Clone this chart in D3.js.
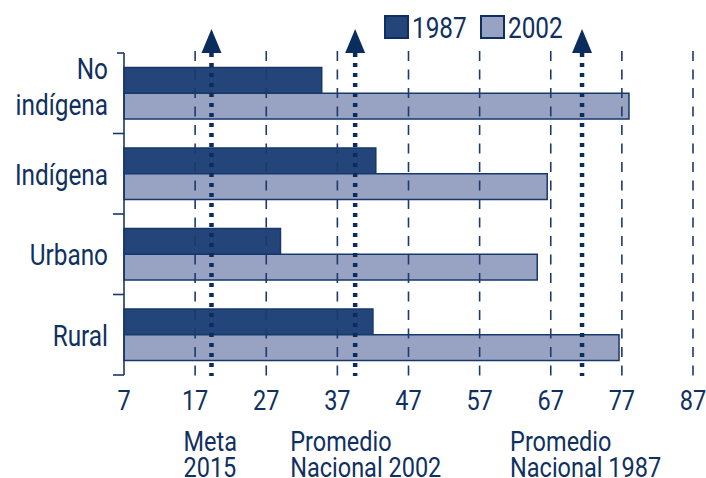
<!DOCTYPE html>
<html>
<head>
<meta charset="utf-8">
<script src="https://cdn.jsdelivr.net/npm/d3@7"></script>
<style>
  body { margin: 0; background: #fff; }
  svg { display: block; }
  text { font-family: Roboto, "Liberation Sans", sans-serif; fill: #10305f; }
</style>
</head>
<body>
<div id="chart"></div>
<script>
// categories, top to bottom
const categories = [['No', 'indígena'], ['Indígena'], ['Urbano'], ['Rural']];
const series = ['1987', '2002'];
const values1987 = [34.8, 42.4, 29.0, 42.0];
const values2002 = [78.0, 66.5, 65.1, 76.6];
const xTicks = [7, 17, 27, 37, 47, 57, 67, 77, 87];

// reference lines (dotted arrows)
const refValues = [19.3, 39.5, 71.4];
const refLabels = [['Meta', '2015'], ['Promedio', 'Nacional 2002'], ['Promedio', 'Nacional 1987']];

const colors = { '1987': '#23457a', '2002': '#98a3c3' };
const narrow = 0.84; // condensed look of the original typeface

const width = 706, height = 478;
const margin = { top: 53, right: 13, bottom: 103, left: 124 };

const svg = d3.select('#chart').append('svg')
  .attr('width', width)
  .attr('height', height);

const place = (px, py) => `translate(${px},${py}) scale(${narrow},1)`;

const x = d3.scaleLinear()
  .domain([7, 87])
  .range([margin.left, width - margin.right]);

const catKeys = categories.map(d => d.join(' '));
const y0 = d3.scaleBand()
  .domain(catKeys)
  .range([margin.top, height - margin.bottom])
  .paddingInner(0.36)
  .paddingOuter(0.18);

const y1 = d3.scaleBand()
  .domain(series)
  .range([0, y0.bandwidth()]);

const rows = catKeys.map((k, i) => ({ key: k, lines: categories[i], '1987': values1987[i], '2002': values2002[i] }));

// bars
const groups = svg.append('g').selectAll('g')
  .data(rows)
  .join('g')
  .attr('transform', d => `translate(0,${y0(d.key)})`);

groups.selectAll('rect')
  .data(d => series.map(s => ({ s, v: d[s] })))
  .join('rect')
  .attr('x', x(7))
  .attr('y', d => y1(d.s))
  .attr('width', d => x(d.v) - x(7))
  .attr('height', y1.bandwidth())
  .attr('fill', d => colors[d.s])
  .attr('stroke', '#17386b')
  .attr('stroke-width', 1.5);

// dashed grid
const yTop = margin.top - 2, yBot = height - margin.bottom + 1;
svg.append('g').selectAll('line')
  .data(xTicks.slice(1))
  .join('line')
  .attr('x1', d => x(d)).attr('x2', d => x(d))
  .attr('y1', yTop).attr('y2', yBot)
  .attr('stroke', '#1d3a6a')
  .attr('stroke-width', 1.6)
  .attr('stroke-dasharray', '10,8.5');

// left axis with ticks at band boundaries
const step = y0.step();
const bounds = catKeys.map(k => y0(k) - step * y0.paddingInner() / 2);
bounds.push(height - margin.bottom);
const axisL = svg.append('g').attr('stroke', '#17386b').attr('stroke-width', 1.6);
axisL.append('line')
  .attr('x1', x(7)).attr('x2', x(7))
  .attr('y1', bounds[0]).attr('y2', bounds[bounds.length - 1]);
axisL.selectAll('line.tick')
  .data(bounds)
  .join('line')
  .attr('class', 'tick')
  .attr('x1', (d, i) => x(7) - (i === 0 ? 7 : 11)).attr('x2', x(7))
  .attr('y1', d => d).attr('y2', d => d);

// category labels
const catText = svg.append('g').selectAll('text')
  .data(rows)
  .join('text')
  .attr('text-anchor', 'end')
  .attr('font-size', 29)
  .attr('transform', d => place(x(7) - 16, y0(d.key) + y0.bandwidth() / 2));
catText.selectAll('tspan')
  .data(d => d.lines.map((t, i) => ({ t, i, n: d.lines.length })))
  .join('tspan')
  .attr('x', 0)
  .attr('dy', d => d.i === 0 ? (d.n === 1 ? 11 : -14) : 36)
  .text(d => d.t);

// bottom tick labels
svg.append('g').selectAll('text')
  .data(xTicks)
  .join('text')
  .attr('text-anchor', 'middle')
  .attr('font-size', 28)
  .attr('transform', d => place(x(d), 410))
  .text(d => d);

// dotted reference arrows
const refs = svg.append('g');
refs.selectAll('line')
  .data(refValues)
  .join('line')
  .attr('x1', d => x(d)).attr('x2', d => x(d))
  .attr('y1', 53).attr('y2', yBot)
  .attr('stroke', '#0b2d5e')
  .attr('stroke-width', 4.5)
  .attr('stroke-dasharray', '4,6');
refs.selectAll('path')
  .data(refValues)
  .join('path')
  .attr('d', d => `M${x(d)},29 L${x(d) + 10},53 L${x(d) - 10},53 Z`)
  .attr('fill', '#0b2d5e');

// reference labels, one text per line
const refDx = [-28, -65, -72];
const refLines = refLabels.flatMap((lines, i) => lines.map((t, j) => ({ t, i, j })));
svg.append('g').selectAll('text')
  .data(refLines)
  .join('text')
  .attr('font-size', 28)
  .attr('transform', d => place(x(refValues[d.i]) + refDx[d.i], 451 + d.j * 25.5))
  .text(d => d.t);

// legend
const legendX = [385, 481];
const legend = svg.append('g').selectAll('g')
  .data(series)
  .join('g')
  .attr('transform', (d, i) => `translate(${legendX[i]},16)`);
legend.append('rect')
  .attr('width', 23).attr('height', 22)
  .attr('fill', d => colors[d])
  .attr('stroke', '#0f2f60')
  .attr('stroke-width', 2);
legend.append('text')
  .attr('font-size', 29)
  .attr('transform', place(27, 22))
  .text(d => d);
</script>
</body>
</html>
